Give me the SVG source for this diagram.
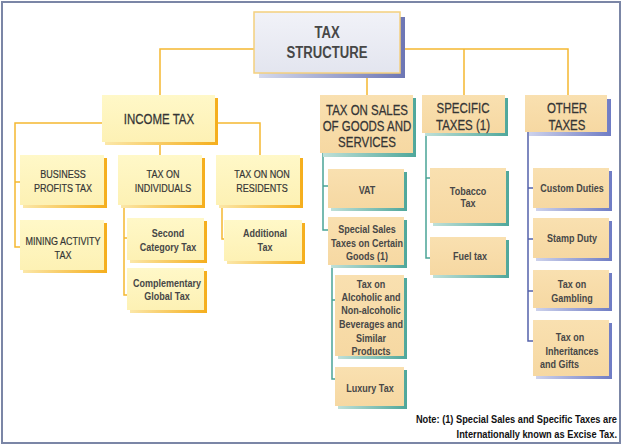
<svg xmlns="http://www.w3.org/2000/svg" width="624" height="446" viewBox="0 0 624 446">
<defs>
<linearGradient id="shBlue" x1="0" y1="0" x2="1" y2="0"><stop offset="0" stop-color="#d4d9ec"/><stop offset="1" stop-color="#6d76b4"/></linearGradient>
<linearGradient id="shOrange" x1="0" y1="0" x2="1" y2="0"><stop offset="0" stop-color="#fbe7a8"/><stop offset="1" stop-color="#f5ae1c"/></linearGradient>
<linearGradient id="shTeal" x1="0" y1="0" x2="1" y2="0"><stop offset="0" stop-color="#bfe0d8"/><stop offset="1" stop-color="#4fa79b"/></linearGradient>
<linearGradient id="shPurple" x1="0" y1="0" x2="1" y2="0"><stop offset="0" stop-color="#cdd2ec"/><stop offset="1" stop-color="#6f7cc4"/></linearGradient>
<linearGradient id="fGrey" x1="0" y1="0" x2="0" y2="1"><stop offset="0" stop-color="#f1f2f8"/><stop offset="1" stop-color="#e3e5ef"/></linearGradient>
<linearGradient id="fYellow" x1="0" y1="0" x2="0" y2="1"><stop offset="0" stop-color="#fff8c8"/><stop offset="1" stop-color="#fdf1b4"/></linearGradient>
<linearGradient id="fTan" x1="0" y1="0" x2="0" y2="1"><stop offset="0" stop-color="#f9e0b0"/><stop offset="1" stop-color="#f6d8a2"/></linearGradient>
</defs>
<style>
text{font-family:"Liberation Sans",Arial,sans-serif;fill:#353535;text-anchor:middle}
.t{font-size:16px;font-weight:bold;fill:#474747}
.h{font-size:14px;stroke:#353535;stroke-width:0.25}
.u{font-size:11px;stroke:#353535;stroke-width:0.2}
.m{font-size:11px;font-weight:bold;fill:#474747}
.note{font-size:11.3px;font-weight:bold;fill:#111;text-anchor:end}
.sb{fill:url(#shBlue)}
.so{fill:url(#shOrange)}
.st{fill:url(#shTeal)}
.sp{fill:url(#shPurple)}
.bg{fill:url(#fGrey);stroke:#f4cf7e;stroke-width:1.5}
.by{fill:url(#fYellow)}
.bt{fill:url(#fTan)}
.co{fill:none;stroke:#f5b830;stroke-width:1.5}
.ct{fill:none;stroke:#4aa496;stroke-width:1.5}
.cb{fill:none;stroke:#5462aa;stroke-width:1.5}
</style>
<rect x="2" y="2" width="618" height="441" fill="#fff" stroke="#7b86a6" stroke-width="2"/>
<g id="connectors">
<path class="co" d="M254,49H160V95M400,49H568V95M464,49V95M367,73V95"/>
<path class="co" d="M102,123H15V247H20M15,182H20M215,123H260V155M160,142V155M124,205V295H127M124,238H127M222,205V239H224"/>
<path class="ct" d="M323,153V230H328M323,186H328M332,265V379H335M332,300H335M426,133V258H430M426,178H430"/>
<path class="cb" d="M528,132V341H533M528,188H533M528,239H533M528,291H533"/>
</g>
<g id="tax-structure"><rect class="sb" x="259" y="17" width="146" height="61"/><rect class="bg" x="254" y="12" width="146" height="61"/><text class="t" transform="translate(327 38) scale(.82 1)">TAX</text><text class="t" transform="translate(327 58) scale(.82 1)">STRUCTURE</text></g>
<g id="income-tax"><rect class="so" x="105" y="98" width="113" height="47"/><rect class="by" x="102" y="95" width="113" height="47"/><text class="h" transform="translate(159 124) scale(.82 1)">INCOME TAX</text></g>
<g id="tax-on-sales"><rect class="st" x="323" y="98" width="93" height="59"/><rect class="bt" x="320" y="95" width="93" height="58"/><text class="h" transform="translate(367 115) scale(.82 1)">TAX ON SALES</text><text class="h" transform="translate(367 131) scale(.82 1)">OF GOODS AND</text><text class="h" transform="translate(367 147) scale(.82 1)">SERVICES</text></g>
<g id="specific-taxes"><rect class="st" x="425" y="98" width="83" height="38"/><rect class="bt" x="422" y="95" width="83" height="38"/><text class="h" transform="translate(463 113) scale(.82 1)">SPECIFIC</text><text class="h" transform="translate(463 130) scale(.82 1)">TAXES (1)</text></g>
<g id="other-taxes"><rect class="sp" x="529" y="99" width="82" height="37"/><rect class="bt" x="525" y="95" width="82" height="37"/><text class="h" transform="translate(567 113) scale(.82 1)">OTHER</text><text class="h" transform="translate(567 130) scale(.82 1)">TAXES</text></g>
<g id="business-profits"><rect class="so" x="23" y="158" width="84" height="50"/><rect class="by" x="20" y="155" width="84" height="50"/><text class="u" transform="translate(63 178) scale(.82 1)">BUSINESS</text><text class="u" transform="translate(63 192) scale(.82 1)">PROFITS TAX</text></g>
<g id="mining-activity"><rect class="so" x="23" y="223" width="84" height="50"/><rect class="by" x="20" y="220" width="84" height="50"/><text class="u" transform="translate(63 245) scale(.82 1)">MINING ACTIVITY</text><text class="u" transform="translate(63 259) scale(.82 1)">TAX</text></g>
<g id="tax-on-individuals"><rect class="so" x="121" y="158" width="84" height="50"/><rect class="by" x="118" y="155" width="84" height="50"/><text class="u" transform="translate(163 178) scale(.82 1)">TAX ON</text><text class="u" transform="translate(163 192) scale(.82 1)">INDIVIDUALS</text></g>
<g id="second-category"><rect class="so" x="130" y="221" width="77" height="42"/><rect class="by" x="127" y="218" width="77" height="42"/><text class="m" transform="translate(168 237) scale(.82 1)">Second</text><text class="m" transform="translate(168 251) scale(.82 1)">Category Tax</text></g>
<g id="complementary-global"><rect class="so" x="130" y="271" width="77" height="42"/><rect class="by" x="127" y="268" width="77" height="42"/><text class="m" transform="translate(167 287) scale(.82 1)">Complementary</text><text class="m" transform="translate(167 300) scale(.82 1)">Global Tax</text></g>
<g id="tax-on-non-residents"><rect class="so" x="219" y="158" width="84" height="50"/><rect class="by" x="216" y="155" width="84" height="50"/><text class="u" transform="translate(262 178) scale(.82 1)">TAX ON NON</text><text class="u" transform="translate(262 192) scale(.82 1)">RESIDENTS</text></g>
<g id="additional-tax"><rect class="so" x="227" y="223" width="78" height="41"/><rect class="by" x="224" y="220" width="78" height="41"/><text class="m" transform="translate(265 237) scale(.82 1)">Additional</text><text class="m" transform="translate(265 251) scale(.82 1)">Tax</text></g>
<g id="vat"><rect class="st" x="331" y="172" width="76" height="39"/><rect class="bt" x="328" y="169" width="76" height="39"/><text class="m" transform="translate(367 194) scale(.82 1)">VAT</text></g>
<g id="special-sales"><rect class="st" x="331" y="220" width="76" height="48"/><rect class="bt" x="328" y="217" width="76" height="48"/><text class="m" transform="translate(367 233) scale(.82 1)">Special Sales</text><text class="m" transform="translate(367 247) scale(.82 1)">Taxes on Certain</text><text class="m" transform="translate(367 260) scale(.82 1)">Goods (1)</text></g>
<g id="alcoholic"><rect class="st" x="338" y="278" width="69" height="81"/><rect class="bt" x="335" y="275" width="69" height="81"/><text class="m" transform="translate(371 288) scale(.82 1)">Tax on</text><text class="m" transform="translate(371 301) scale(.82 1)">Alcoholic and</text><text class="m" transform="translate(371 314) scale(.82 1)">Non-alcoholic</text><text class="m" transform="translate(371 328) scale(.82 1)">Beverages and</text><text class="m" transform="translate(371 342) scale(.82 1)">Similar</text><text class="m" transform="translate(371 355) scale(.82 1)">Products</text></g>
<g id="luxury-tax"><rect class="st" x="338" y="370" width="69" height="39"/><rect class="bt" x="335" y="367" width="69" height="39"/><text class="m" transform="translate(370 392) scale(.82 1)">Luxury Tax</text></g>
<g id="tobacco-tax"><rect class="st" x="433" y="171" width="76" height="55"/><rect class="bt" x="430" y="168" width="76" height="55"/><text class="m" transform="translate(468 195) scale(.82 1)">Tobacco</text><text class="m" transform="translate(468 207) scale(.82 1)">Tax</text></g>
<g id="fuel-tax"><rect class="st" x="433" y="240" width="76" height="38"/><rect class="bt" x="430" y="237" width="76" height="38"/><text class="m" transform="translate(470 260) scale(.82 1)">Fuel tax</text></g>
<g id="custom-duties"><rect class="sp" x="536" y="171" width="76" height="40"/><rect class="bt" x="533" y="168" width="76" height="40"/><text class="m" transform="translate(572 192) scale(.82 1)">Custom Duties</text></g>
<g id="stamp-duty"><rect class="sp" x="536" y="221" width="76" height="40"/><rect class="bt" x="533" y="218" width="76" height="40"/><text class="m" transform="translate(572 242) scale(.82 1)">Stamp Duty</text></g>
<g id="gambling"><rect class="sp" x="536" y="273" width="76" height="38"/><rect class="bt" x="533" y="270" width="76" height="38"/><text class="m" transform="translate(572 288) scale(.82 1)">Tax on</text><text class="m" transform="translate(572 302) scale(.82 1)">Gambling</text></g>
<g id="inheritances"><rect class="sp" x="536" y="323" width="76" height="56"/><rect class="bt" x="533" y="320" width="76" height="56"/><text class="m" transform="translate(570 341) scale(.82 1)">Tax on</text><text class="m" transform="translate(572 355) scale(.82 1)">Inheritances</text><text class="m" transform="translate(540 368) scale(.82 1)" style="text-anchor:start">and Gifts</text></g>
<g id="note"><text class="note" transform="translate(617 423) scale(.82 1)">Note: (1) Special Sales and Specific Taxes are</text><text class="note" transform="translate(617 438) scale(.82 1)">Internationally known as Excise Tax.</text></g>
</svg>
